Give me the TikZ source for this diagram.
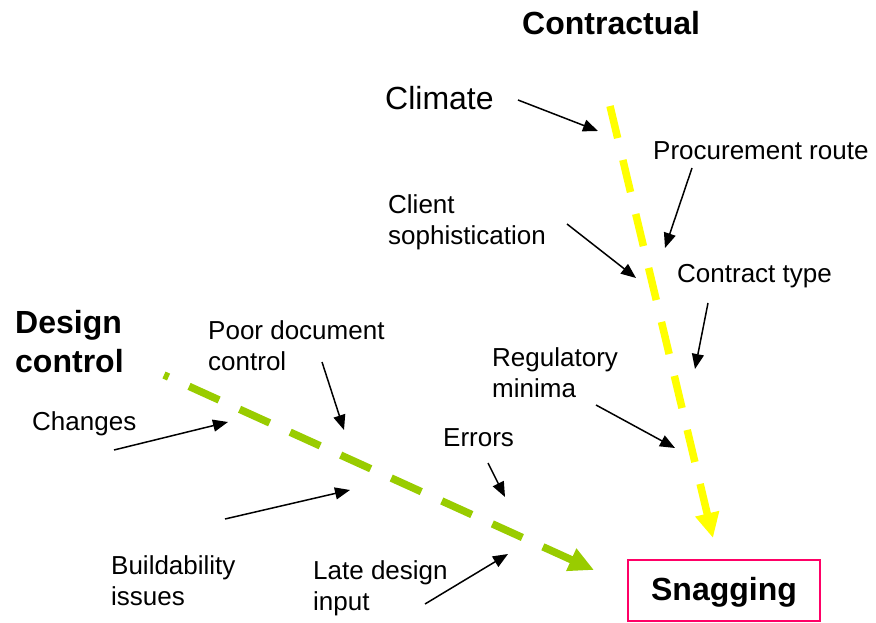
\documentclass[tikz,border=0pt]{standalone}
\usepackage{fontspec}
\setmainfont{Liberation Sans}
\usetikzlibrary{arrows.meta}
\definecolor{dcgreen}{HTML}{99CC00}
\definecolor{ctyellow}{HTML}{FFFF00}
\definecolor{snagred}{HTML}{FF0066}
\begin{document}
\begin{tikzpicture}[x=1pt,y=-1pt,
  label/.style={anchor=base west, inner sep=0pt, align=left, font=\fontsize{26}{31}\selectfont},
  biglabel/.style={anchor=base west, inner sep=0pt, align=left, font=\fontsize{32}{39}\selectfont},
  heading/.style={anchor=base west, inner sep=0pt, align=left, font=\fontsize{32}{39}\selectfont\bfseries},
  cause/.style={draw=black, line width=1.5pt, -{Triangle[length=15pt,width=12pt]}},
  bone/.style={line width=7.5pt, dash pattern=on 33pt off 22.5pt, -{Triangle[length=25pt,width=23pt]}},
]
\useasboundingbox (0,0) rectangle (876,623);

% headings and labels (multi-line labels are placed by their last baseline)
\node[heading]  (contractual)  at (522,35)  {Contractual};
\node[biglabel] (climate)      at (385,110) {Climate};
\node[label]    (procurement)  at (653,160) {Procurement route};
\node[label]    (client)       at (388,244) {Client\\sophistication};
\node[label]    (contract)     at (677,282) {Contract type};
\node[label]    (regulatory)   at (492,397) {Regulatory\\minima};
\node[heading]  (design)       at (15,372)  {Design\\control};
\node[label]    (poordoc)      at (208,370) {Poor document\\control};
\node[label]    (changes)      at (32,430)  {Changes};
\node[label]    (errors)       at (443,446) {Errors};
\node[label]    (buildability) at (111,605) {Buildability\\issues};
\node[label]    (latedesign)   at (313,610) {Late design\\input};

% effect box
\node[draw=snagred, line width=2pt, minimum width=192pt, minimum height=61pt,
      inner sep=0pt, text depth=3pt, font=\fontsize{32}{39}\selectfont\bfseries] (snagging) at (724,590.5) {Snagging};

% main bones
\coordinate (ytop) at (610,106);
\coordinate (ytip) at (713,538);
\draw[bone, draw=ctyellow] (ytop) -- (ytip);

\coordinate (gtop) at (164,375);
\coordinate (gtip) at (594,570);
\draw[bone, draw=dcgreen, dash phase=28pt] (gtop) -- (gtip);

% cause arrows
\coordinate (climS) at (518,100);  \coordinate (climE) at (598,131);
\coordinate (procS) at (692,168);  \coordinate (procE) at (665,248);
\coordinate (cliS)  at (567,224);  \coordinate (cliE)  at (636,278);
\coordinate (conS)  at (708,303);  \coordinate (conE)  at (695,369);
\coordinate (regS)  at (596,405);  \coordinate (regE)  at (675,448);
\coordinate (chgS)  at (114,450);  \coordinate (chgE)  at (228,422);
\coordinate (pdcS)  at (322,362);  \coordinate (pdcE)  at (344,430);
\coordinate (bldS)  at (225,519);  \coordinate (bldE)  at (350,490);
\coordinate (errS)  at (488,463);  \coordinate (errE)  at (505,497);
\coordinate (ldiS)  at (425,604);  \coordinate (ldiE)  at (508,554);

\draw[cause] (climS) -- (climE);
\draw[cause] (procS) -- (procE);
\draw[cause] (cliS) -- (cliE);
\draw[cause] (conS) -- (conE);
\draw[cause] (regS) -- (regE);
\draw[cause] (chgS) -- (chgE);
\draw[cause] (pdcS) -- (pdcE);
\draw[cause] (bldS) -- (bldE);
\draw[cause] (errS) -- (errE);
\draw[cause] (ldiS) -- (ldiE);
\end{tikzpicture}
\end{document}
